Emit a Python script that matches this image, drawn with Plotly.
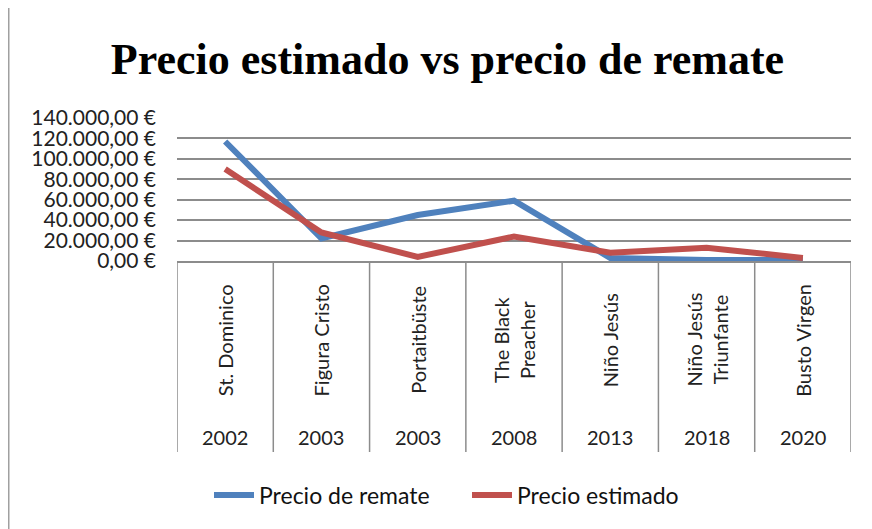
import plotly.graph_objects as go

# ---- data ----
names = ["St. Dominico", "Figura Cristo", "Portaitbüste", "The Black<br>Preacher",
         "Niño Jesús", "Niño Jesús<br>Triunfante", "Busto Virgen"]
years = ["2002", "2003", "2003", "2008", "2013", "2018", "2020"]
precio_remate = [117000, 22000, 45000, 59000, 3000, 1000, 1000]
precio_estimado = [90000, 28000, 4000, 24000, 8000, 13000, 3000]
ytick_vals = [0, 20000, 40000, 60000, 80000, 100000, 120000, 140000]
ytick_text = ["0,00 €", "20.000,00 €", "40.000,00 €", "60.000,00 €", "80.000,00 €",
              "100.000,00 €", "120.000,00 €", "140.000,00 €"]

W, H = 872, 529
OFF = 8  # page body margin
# screen-pixel layout of reference
SL, SR, ST, SB = 177, 851, 118, 261
L = SL - OFF
T = ST - OFF
R = W - (SR - OFF)
B = H - (SB - OFF)
pw, ph = W - L - R, H - T - B

def py(spix):  # screen pixel y -> paper y
    return (SB - spix) / ph

def px(spix):
    return (spix - SL) / pw

FONT = "Lato"
GRID = "#8c8c8c"

fig = go.Figure()
fig.add_trace(go.Scatter(x=names, y=precio_remate, mode="lines", name="Precio de remate",
                         line=dict(color="#4F81BD", width=6)))
fig.add_trace(go.Scatter(x=names, y=precio_estimado, mode="lines", name="Precio estimado",
                         line=dict(color="#C0504D", width=6)))

annotations = []
for n, yr in zip(names, years):
    annotations.append(dict(x=n, xref="x", y=py(340), yref="paper", text=n, textangle=-90,
                            showarrow=False, xanchor="center", yanchor="middle",
                            font=dict(family=FONT, size=20, color="#222")))
    annotations.append(dict(x=n, xref="x", y=py(437), yref="paper", text=yr,
                            showarrow=False, xanchor="center", yanchor="middle",
                            font=dict(family=FONT, size=20, color="#222")))

shapes = []
for i in range(len(names) + 1):
    shapes.append(dict(type="line", xref="x", yref="paper", x0=i - 0.5, x1=i - 0.5,
                       y0=0, y1=py(452), line=dict(color=GRID, width=1.5)))
# chart border (left edge)
shapes.append(dict(type="line", xref="paper", yref="paper", x0=px(8.5), x1=px(8.5),
                   y0=py(-5), y1=py(545), line=dict(color="#a0a0a0", width=2)))

fig.update_layout(
    width=W, height=H,
    margin=dict(l=L, r=R, t=T, b=B, autoexpand=False),
    paper_bgcolor="white", plot_bgcolor="white",
    title=dict(text="Precio estimado vs precio de remate", x=(447.5 - OFF) / W, xref="container",
               xanchor="center", y=1 - (59 - OFF) / H, yref="container", yanchor="middle",
               font=dict(family="Liberation Serif", size=44, color="black", weight="bold")),
    xaxis=dict(type="category", range=[-0.5, len(names) - 0.5], showticklabels=False,
               showgrid=False, zeroline=False, showline=True, linecolor=GRID, linewidth=1.5,
               ticks=""),
    yaxis=dict(range=[0, 140000], tickvals=ytick_vals, ticktext=ytick_text,
               showgrid=True, gridcolor=GRID, gridwidth=1.5, zeroline=False, showline=False,
               ticks="", ticklabelstandoff=20,
               tickfont=dict(family=FONT, size=21, color="#222")),
    showlegend=True,
    legend=dict(orientation="h", x=px(209), xanchor="left", y=py(495), yanchor="middle",
                font=dict(family=FONT, size=23, color="#111"), itemwidth=40,
                entrywidth=203, entrywidthmode="pixels",
                bgcolor="rgba(0,0,0,0)"),
    annotations=annotations,
    shapes=shapes,
)

fig.write_html("out.html")
